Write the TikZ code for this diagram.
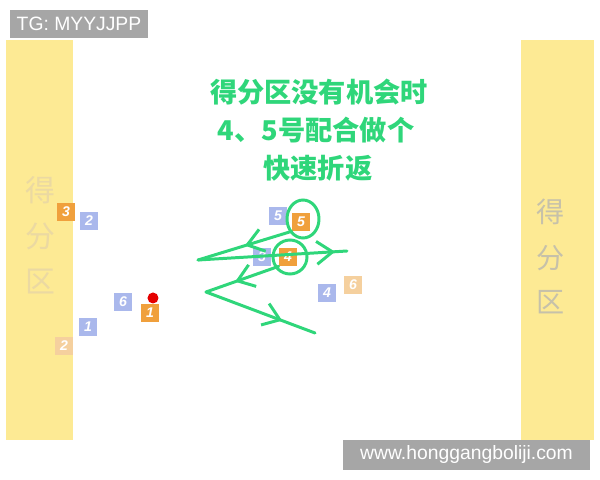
\documentclass[tikz,border=0pt]{standalone}
\usepackage{fontspec}
\usepackage{xcolor}
\usetikzlibrary{arrows.meta,decorations.markings}
\setmainfont{Liberation Sans}
\newfontfamily\cjk{Noto Sans CJK SC}
\definecolor{band}{HTML}{FDEA94}
\definecolor{bandtxt}{HTML}{EBD9A2}
\definecolor{bandgrey}{HTML}{C6C1AA}
\definecolor{tag}{HTML}{A6A6A6}
\definecolor{mygreen}{HTML}{2FD67A}
\definecolor{pblue}{HTML}{AAB8EC}
\definecolor{porange}{HTML}{F0A03C}
\definecolor{pfade}{HTML}{F5D09E}
\tikzset{
  pl/.style={minimum size=0.36cm, inner sep=0pt, text=white,
    font=\fontsize{8}{8}\selectfont\bfseries\itshape},
  bl/.style={pl, fill=pblue},
  og/.style={pl, fill=porange},
  fd/.style={pl, fill=pfade},
  run/.style={draw=mygreen, line width=1.7pt, line cap=round},
  midhead/.style={postaction={decorate, decoration={markings,
    mark=at position #1 with {\arrow{Straight Barb[length=9pt,width=13pt,line width=1.7pt]}}}}}
}
\begin{document}
\begin{tikzpicture}[x=0.02cm, y=-0.02cm]
\useasboundingbox (0,0) rectangle (600,480);

% scoring zones
\fill[band] (6,40) rectangle (73,440);
\fill[band] (521,40) rectangle (594,440);
\node[text=bandtxt, font=\cjk\fontsize{17}{17}\selectfont] (l1) at (40,190) {得};
\node[text=bandtxt, font=\cjk\fontsize{17}{17}\selectfont] (l2) at (40,236) {分};
\node[text=bandtxt, font=\cjk\fontsize{17}{17}\selectfont] (l3) at (40,282) {区};
\node[text=bandgrey, font=\cjk\fontsize{16}{16}\selectfont] (r1) at (551,212) {得};
\node[text=bandgrey, font=\cjk\fontsize{16}{16}\selectfont] (r2) at (551,258) {分};
\node[text=bandgrey, font=\cjk\fontsize{16}{16}\selectfont] (r3) at (551,302) {区};

% tags
\node[fill=tag, text=white, font=\fontsize{11}{11}\selectfont, minimum width=2.76cm,
  minimum height=0.56cm, inner sep=0pt] (tg) at (79,24) {TG: MYYJJPP};
\node[fill=tag, text=white, font=\fontsize{11}{11}\selectfont, minimum width=4.94cm,
  minimum height=0.6cm, inner sep=0pt] (url) at (466.5,455) {www.honggangboliji.com};

% title
\node[text=mygreen, font=\cjk\bfseries\fontsize{15.5}{15.5}\selectfont] (t1) at (319,92) {得分区没有机会时};
\node[text=mygreen, font=\cjk\bfseries\fontsize{15.5}{15.5}\selectfont] (t2) at (316,130) {4、5号配合做个};
\node[text=mygreen, font=\cjk\bfseries\fontsize{15.5}{15.5}\selectfont] (t3) at (318,168) {快速折返};

% players
\node[og] (o3) at (66,212) {3};
\node[bl] (b2) at (89,221) {2};
\node[bl] (b6) at (123,302) {6};
\node[og] (o1) at (150,313) {1};
\node[bl] (b1) at (88,327) {1};
\node[fd] (o2) at (64,346) {2};
\node[bl] (b5) at (278,216) {5};
\node[og] (o5) at (301,222) {5};
\node[bl] (b3) at (262,257) {3};
\node[og] (o4) at (288,257) {4};
\node[bl] (b4) at (327,293) {4};
\node[fd] (o6) at (353,285) {6};
\fill[red!90!black] (153,298) circle (5.5);

% runs
\draw[run] (303,219) ellipse (16 and 19);
\draw[run] (290,257) circle (17);
\coordinate (v1) at (198,260);
\coordinate (e1) at (347,251);
\coordinate (v2) at (206,292);
\coordinate (e2) at (315,333);
\draw[run, midhead=0.5] (o5.south west) -- (v1);
\draw[run, midhead=0.92] (v1) -- (e1);
\draw[run, midhead=0.6] (o4.south west) -- (v2);
\draw[run, midhead=0.7] (v2) -- (e2);
\end{tikzpicture}
\end{document}
